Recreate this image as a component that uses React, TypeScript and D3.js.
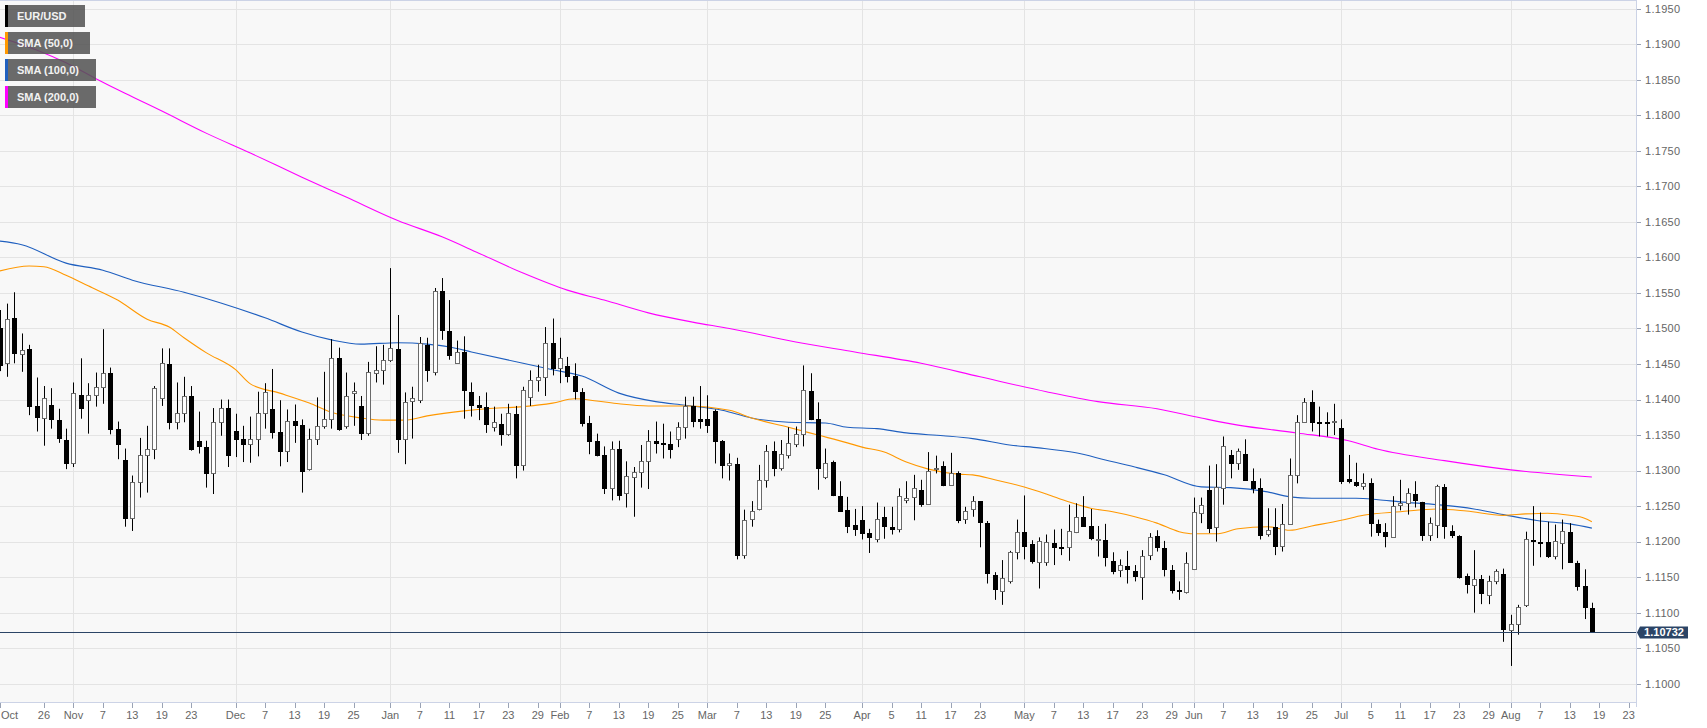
import React from "react";
import * as d3 from "d3";

// ---------- DATA ----------
const START_DATE = "2018-10-18";
const END_DATE = "2019-08-23";

// Daily EUR/USD candles, one per trading session from START_DATE: [open, high, low, close]
const OHLC: [number, number, number, number][] = [
  [1.1500, 1.1526, 1.1440, 1.1449], [1.1451, 1.1535, 1.1432, 1.1513], [1.1515, 1.1551, 1.1451, 1.1466], [1.1464, 1.1493, 1.1439, 1.1470],
  [1.1471, 1.1477, 1.1378, 1.1391], [1.1391, 1.1431, 1.1355, 1.1376], [1.1374, 1.1419, 1.1335, 1.1402], [1.1392, 1.1416, 1.1359, 1.1373],
  [1.1371, 1.1387, 1.1339, 1.1346], [1.1343, 1.1359, 1.1302, 1.1311], [1.1311, 1.1424, 1.1305, 1.1409], [1.1407, 1.1458, 1.1373, 1.1388],
  [1.1399, 1.1423, 1.1352, 1.1407], [1.1406, 1.1438, 1.1390, 1.1418], [1.1417, 1.1499, 1.1394, 1.1438], [1.1438, 1.1445, 1.1351, 1.1359],
  [1.1359, 1.1369, 1.1316, 1.1337], [1.1315, 1.1331, 1.1221, 1.1233], [1.1233, 1.1293, 1.1215, 1.1284], [1.1284, 1.1346, 1.1262, 1.1322],
  [1.1322, 1.1363, 1.1269, 1.1331], [1.1331, 1.1419, 1.1316, 1.1416], [1.1402, 1.1472, 1.1391, 1.1451], [1.1450, 1.1472, 1.1358, 1.1369],
  [1.1368, 1.1424, 1.1358, 1.1381], [1.1381, 1.1432, 1.1368, 1.1405], [1.1405, 1.1419, 1.1328, 1.1330], [1.1341, 1.1383, 1.1324, 1.1334],
  [1.1333, 1.1342, 1.1276, 1.1296], [1.1296, 1.1388, 1.1267, 1.1369], [1.1369, 1.1400, 1.1349, 1.1388], [1.1388, 1.1400, 1.1305, 1.1322],
  [1.1356, 1.1380, 1.1319, 1.1344], [1.1344, 1.1363, 1.1312, 1.1337], [1.1337, 1.1376, 1.1311, 1.1344], [1.1344, 1.1411, 1.1320, 1.1381],
  [1.1381, 1.1423, 1.1359, 1.1410], [1.1386, 1.1443, 1.1345, 1.1354], [1.1354, 1.1399, 1.1306, 1.1327], [1.1327, 1.1386, 1.1312, 1.1370],
  [1.1370, 1.1393, 1.1339, 1.1364], [1.1364, 1.1372, 1.1269, 1.1300], [1.1302, 1.1359, 1.1300, 1.1344], [1.1344, 1.1403, 1.1336, 1.1363],
  [1.1363, 1.1439, 1.1359, 1.1372], [1.1372, 1.1485, 1.1359, 1.1459], [1.1459, 1.1473, 1.1356, 1.1358], [1.1363, 1.1438, 1.1359, 1.1405],
  [1.1409, 1.1424, 1.1363, 1.1412], [1.1391, 1.1405, 1.1343, 1.1353], [1.1353, 1.1453, 1.1349, 1.1439], [1.1438, 1.1475, 1.1424, 1.1442],
  [1.1441, 1.1477, 1.1421, 1.1456], [1.1456, 1.1585, 1.1453, 1.1472], [1.1471, 1.1519, 1.1325, 1.1345], [1.1344, 1.1410, 1.1309, 1.1397],
  [1.1398, 1.1418, 1.1345, 1.1402], [1.1400, 1.1488, 1.1395, 1.1479], [1.1477, 1.1487, 1.1425, 1.1441], [1.1439, 1.1557, 1.1434, 1.1553],
  [1.1553, 1.1571, 1.1484, 1.1498], [1.1496, 1.1540, 1.1456, 1.1463], [1.1452, 1.1483, 1.1450, 1.1467], [1.1467, 1.1489, 1.1373, 1.1413],
  [1.1411, 1.1424, 1.1376, 1.1392], [1.1392, 1.1405, 1.1371, 1.1390], [1.1390, 1.1410, 1.1353, 1.1365], [1.1362, 1.1390, 1.1355, 1.1368],
  [1.1366, 1.1380, 1.1335, 1.1352], [1.1352, 1.1394, 1.1349, 1.1381], [1.1380, 1.1391, 1.1289, 1.1308], [1.1308, 1.1418, 1.1300, 1.1413],
  [1.1404, 1.1441, 1.1391, 1.1427], [1.1427, 1.1449, 1.1411, 1.1432], [1.1432, 1.1502, 1.1405, 1.1479], [1.1479, 1.1514, 1.1434, 1.1444],
  [1.1444, 1.1487, 1.1423, 1.1458], [1.1447, 1.1460, 1.1424, 1.1433], [1.1433, 1.1451, 1.1400, 1.1412], [1.1411, 1.1416, 1.1362, 1.1367],
  [1.1367, 1.1377, 1.1323, 1.1342], [1.1342, 1.1352, 1.1320, 1.1322], [1.1322, 1.1334, 1.1267, 1.1276], [1.1276, 1.1341, 1.1258, 1.1331],
  [1.1331, 1.1342, 1.1258, 1.1266], [1.1268, 1.1313, 1.1248, 1.1293], [1.1291, 1.1305, 1.1235, 1.1298], [1.1298, 1.1336, 1.1276, 1.1314],
  [1.1314, 1.1357, 1.1274, 1.1342], [1.1342, 1.1369, 1.1324, 1.1339], [1.1339, 1.1366, 1.1317, 1.1338], [1.1337, 1.1355, 1.1317, 1.1331],
  [1.1345, 1.1368, 1.1333, 1.1361], [1.1361, 1.1404, 1.1345, 1.1391], [1.1391, 1.1404, 1.1361, 1.1370], [1.1372, 1.1419, 1.1359, 1.1370],
  [1.1372, 1.1406, 1.1353, 1.1364], [1.1384, 1.1386, 1.1310, 1.1342], [1.1341, 1.1343, 1.1289, 1.1308], [1.1308, 1.1324, 1.1286, 1.1311],
  [1.1309, 1.1318, 1.1175, 1.1181], [1.1181, 1.1245, 1.1176, 1.1231], [1.1232, 1.1257, 1.1221, 1.1243], [1.1246, 1.1308, 1.1244, 1.1287],
  [1.1287, 1.1336, 1.1276, 1.1327], [1.1327, 1.1341, 1.1292, 1.1303], [1.1303, 1.1343, 1.1300, 1.1324], [1.1322, 1.1361, 1.1317, 1.1339],
  [1.1337, 1.1362, 1.1333, 1.1351], [1.1351, 1.1448, 1.1334, 1.1413], [1.1412, 1.1437, 1.1371, 1.1373], [1.1372, 1.1396, 1.1273, 1.1304],
  [1.1291, 1.1331, 1.1288, 1.1311], [1.1312, 1.1314, 1.1264, 1.1265], [1.1264, 1.1285, 1.1242, 1.1243], [1.1244, 1.1263, 1.1212, 1.1222],
  [1.1223, 1.1246, 1.1208, 1.1218], [1.1230, 1.1250, 1.1203, 1.1212], [1.1212, 1.1218, 1.1184, 1.1207], [1.1204, 1.1255, 1.1199, 1.1232],
  [1.1234, 1.1249, 1.1204, 1.1222], [1.1220, 1.1249, 1.1210, 1.1218], [1.1218, 1.1275, 1.1213, 1.1264], [1.1259, 1.1285, 1.1254, 1.1261],
  [1.1263, 1.1294, 1.1230, 1.1275], [1.1273, 1.1287, 1.1249, 1.1253], [1.1253, 1.1326, 1.1253, 1.1300], [1.1302, 1.1321, 1.1296, 1.1303],
  [1.1306, 1.1313, 1.1278, 1.1280], [1.1280, 1.1325, 1.1279, 1.1296], [1.1296, 1.1299, 1.1226, 1.1231], [1.1232, 1.1249, 1.1225, 1.1243],
  [1.1246, 1.1264, 1.1235, 1.1257], [1.1257, 1.1257, 1.1192, 1.1227], [1.1226, 1.1229, 1.1141, 1.1156], [1.1153, 1.1157, 1.1118, 1.1133],
  [1.1131, 1.1174, 1.1111, 1.1149], [1.1145, 1.1187, 1.1141, 1.1185], [1.1186, 1.1231, 1.1175, 1.1214], [1.1214, 1.1265, 1.1175, 1.1194],
  [1.1196, 1.1202, 1.1169, 1.1173], [1.1171, 1.1206, 1.1134, 1.1201], [1.1171, 1.1210, 1.1166, 1.1199], [1.1198, 1.1217, 1.1167, 1.1192],
  [1.1193, 1.1218, 1.1181, 1.1191], [1.1193, 1.1252, 1.1173, 1.1215], [1.1213, 1.1254, 1.1212, 1.1234], [1.1234, 1.1264, 1.1221, 1.1222],
  [1.1222, 1.1246, 1.1202, 1.1205], [1.1204, 1.1222, 1.1179, 1.1204], [1.1202, 1.1225, 1.1165, 1.1178], [1.1173, 1.1185, 1.1154, 1.1159],
  [1.1160, 1.1175, 1.1150, 1.1167], [1.1166, 1.1187, 1.1141, 1.1162], [1.1159, 1.1167, 1.1144, 1.1152], [1.1150, 1.1188, 1.1118, 1.1180],
  [1.1181, 1.1212, 1.1174, 1.1207], [1.1208, 1.1216, 1.1186, 1.1193], [1.1191, 1.1201, 1.1151, 1.1162], [1.1160, 1.1167, 1.1127, 1.1132],
  [1.1132, 1.1144, 1.1118, 1.1131], [1.1129, 1.1185, 1.1127, 1.1170], [1.1162, 1.1262, 1.1160, 1.1241], [1.1240, 1.1262, 1.1226, 1.1251],
  [1.1273, 1.1307, 1.1212, 1.1219], [1.1220, 1.1309, 1.1200, 1.1277], [1.1275, 1.1348, 1.1252, 1.1334], [1.1322, 1.1329, 1.1289, 1.1311],
  [1.1310, 1.1331, 1.1301, 1.1327], [1.1324, 1.1344, 1.1286, 1.1287], [1.1286, 1.1303, 1.1268, 1.1275], [1.1275, 1.1289, 1.1203, 1.1209],
  [1.1211, 1.1247, 1.1207, 1.1216], [1.1221, 1.1247, 1.1181, 1.1194], [1.1194, 1.1253, 1.1186, 1.1225], [1.1225, 1.1317, 1.1225, 1.1294],
  [1.1294, 1.1378, 1.1282, 1.1369], [1.1369, 1.1402, 1.1367, 1.1397], [1.1397, 1.1413, 1.1355, 1.1368], [1.1369, 1.1390, 1.1348, 1.1368],
  [1.1369, 1.1382, 1.1348, 1.1368], [1.1368, 1.1394, 1.1350, 1.1370], [1.1360, 1.1372, 1.1281, 1.1286], [1.1288, 1.1322, 1.1282, 1.1286],
  [1.1284, 1.1311, 1.1277, 1.1280], [1.1278, 1.1296, 1.1273, 1.1283], [1.1283, 1.1289, 1.1207, 1.1226], [1.1225, 1.1231, 1.1208, 1.1214],
  [1.1213, 1.1226, 1.1192, 1.1208], [1.1207, 1.1264, 1.1206, 1.1250], [1.1252, 1.1287, 1.1244, 1.1254], [1.1254, 1.1275, 1.1238, 1.1269],
  [1.1267, 1.1285, 1.1248, 1.1259], [1.1256, 1.1256, 1.1201, 1.1210], [1.1210, 1.1234, 1.1201, 1.1226], [1.1223, 1.1280, 1.1205, 1.1278],
  [1.1277, 1.1281, 1.1204, 1.1222], [1.1215, 1.1223, 1.1205, 1.1210], [1.1208, 1.1209, 1.1148, 1.1150], [1.1152, 1.1155, 1.1127, 1.1140],
  [1.1139, 1.1188, 1.1100, 1.1147], [1.1147, 1.1153, 1.1112, 1.1127], [1.1125, 1.1152, 1.1112, 1.1145], [1.1145, 1.1161, 1.1140, 1.1158],
  [1.1154, 1.1162, 1.1059, 1.1077], [1.1075, 1.1097, 1.1025, 1.1084], [1.1084, 1.1111, 1.1069, 1.1108], [1.1111, 1.1214, 1.1108, 1.1203],
  [1.1202, 1.1250, 1.1166, 1.1201], [1.1200, 1.1241, 1.1178, 1.1198], [1.1199, 1.1228, 1.1177, 1.1180], [1.1180, 1.1224, 1.1175, 1.1201],
  [1.1198, 1.1231, 1.1161, 1.1215], [1.1213, 1.1226, 1.1170, 1.1171], [1.1170, 1.1173, 1.1131, 1.1138], [1.1138, 1.1161, 1.1091, 1.1108],
  [1.1107, 1.1114, 1.1073, 1.1073],
];

// Moving averages: [session index, value]
const SMA50: [number, number][] = [
  [0, 1.1581], [4, 1.1588], [6, 1.1587], [9, 1.1575], [12, 1.1560], [16, 1.1540], [20, 1.1513], [23, 1.1502],
  [25, 1.1487], [28, 1.1466], [32, 1.1442], [34, 1.1422], [38, 1.1409], [42, 1.1395], [45, 1.1382], [49, 1.1374],
  [52, 1.1371], [55, 1.1371], [58, 1.1377], [63, 1.1384], [66, 1.1387], [71, 1.1390], [75, 1.1395], [78, 1.1401],
  [81, 1.1398], [84, 1.1394], [88, 1.1391], [93, 1.1391], [99, 1.1385], [102, 1.1374], [107, 1.1361], [111, 1.1350],
  [115, 1.1339], [117, 1.1333], [120, 1.1326], [123, 1.1312], [126, 1.1302], [130, 1.1295], [132, 1.1294], [135, 1.1287],
  [139, 1.1277], [142, 1.1267], [145, 1.1256], [148, 1.1247], [151, 1.1242], [154, 1.1235], [157, 1.1226], [160, 1.1214],
  [162, 1.1211], [165, 1.1211], [168, 1.1218], [172, 1.1221], [175, 1.1216], [178, 1.1222], [182, 1.1230], [185, 1.1237],
  [190, 1.1242], [195, 1.1246], [199, 1.1243], [204, 1.1237], [207, 1.1239], [210, 1.1240], [213, 1.1237], [215, 1.1233],
  [216, 1.1228],
];
const SMA100: [number, number][] = [
  [0, 1.1623], [3, 1.1618], [9, 1.1592], [14, 1.1582], [18, 1.1568], [25, 1.1551], [30, 1.1536], [36, 1.1515],
  [41, 1.1495], [45, 1.1484], [49, 1.1478], [54, 1.1480], [58, 1.1478], [61, 1.1474], [64, 1.1467], [71, 1.1451],
  [75, 1.1442], [79, 1.1433], [84, 1.1409], [89, 1.1397], [93, 1.1392], [98, 1.1385], [102, 1.1374], [107, 1.1368],
  [112, 1.1367], [115, 1.1361], [119, 1.1359], [123, 1.1353], [128, 1.1349], [132, 1.1345], [137, 1.1336], [141, 1.1332],
  [146, 1.1325], [150, 1.1315], [154, 1.1305], [158, 1.1294], [163, 1.1277], [167, 1.1276], [172, 1.1270], [175, 1.1263],
  [178, 1.1261], [184, 1.1261], [187, 1.1259], [190, 1.1256], [195, 1.1252], [200, 1.1246], [204, 1.1238], [209, 1.1229],
  [213, 1.1225], [216, 1.1219],
];
const SMA200: [number, number][] = [
  [0, 1.1910], [5, 1.1892], [9, 1.1874], [13, 1.1852], [17, 1.1831], [22, 1.1806], [28, 1.1775], [34, 1.1747],
  [41, 1.1713], [47, 1.1685], [54, 1.1652], [60, 1.1629], [65, 1.1606], [71, 1.1578], [77, 1.1554], [82, 1.1540],
  [88, 1.1522], [94, 1.1509], [99, 1.1500], [108, 1.1481], [116, 1.1467], [125, 1.1451], [133, 1.1432], [142, 1.1411],
  [149, 1.1397], [157, 1.1387], [163, 1.1374], [168, 1.1364], [176, 1.1353], [183, 1.1342], [187, 1.1330], [196, 1.1314],
  [205, 1.1301], [216, 1.1291],
];

const X_TICKS: [string, string][] = [
  ["2018-10-18", "Oct"], ["2018-10-26", "26"], ["2018-11-01", "Nov"], ["2018-11-07", "7"], ["2018-11-13", "13"],
  ["2018-11-19", "19"], ["2018-11-23", "23"], ["2018-12-03", "Dec"], ["2018-12-07", "7"], ["2018-12-13", "13"],
  ["2018-12-19", "19"], ["2018-12-25", "25"], ["2019-01-01", "Jan"], ["2019-01-07", "7"], ["2019-01-11", "11"],
  ["2019-01-17", "17"], ["2019-01-23", "23"], ["2019-01-29", "29"], ["2019-02-01", "Feb"], ["2019-02-07", "7"],
  ["2019-02-13", "13"], ["2019-02-19", "19"], ["2019-02-25", "25"], ["2019-03-01", "Mar"], ["2019-03-07", "7"],
  ["2019-03-13", "13"], ["2019-03-19", "19"], ["2019-03-25", "25"], ["2019-04-01", "Apr"], ["2019-04-05", "5"],
  ["2019-04-11", "11"], ["2019-04-17", "17"], ["2019-04-23", "23"], ["2019-05-01", "May"], ["2019-05-07", "7"],
  ["2019-05-13", "13"], ["2019-05-17", "17"], ["2019-05-23", "23"], ["2019-05-29", "29"], ["2019-06-03", "Jun"],
  ["2019-06-07", "7"], ["2019-06-13", "13"], ["2019-06-19", "19"], ["2019-06-25", "25"], ["2019-07-01", "Jul"],
  ["2019-07-05", "5"], ["2019-07-11", "11"], ["2019-07-17", "17"], ["2019-07-23", "23"], ["2019-07-29", "29"],
  ["2019-08-01", "Aug"], ["2019-08-07", "7"], ["2019-08-13", "13"], ["2019-08-19", "19"], ["2019-08-23", "23"],
];
const MONTH_LABELS = ["Nov", "Dec", "Jan", "Feb", "Mar", "Apr", "May", "Jun", "Jul", "Aug"];

const Y_TICKS = [
  1.1, 1.105, 1.11, 1.115, 1.12, 1.125, 1.13, 1.135, 1.14, 1.145,
  1.15, 1.155, 1.16, 1.165, 1.17, 1.175, 1.18, 1.185, 1.19, 1.195,
];
const LAST_PRICE = 1.10732;

const LEGEND: [string, string][] = [
  ["EUR/USD", "#000000"],
  ["SMA (50,0)", "#ff9800"],
  ["SMA (100,0)", "#1f5fbf"],
  ["SMA (200,0)", "#ff00ff"],
];

// ---------- HELPERS ----------
function tradingDays(start: string, end: string): string[] {
  const out: string[] = [];
  const [sy, sm, sd] = start.split("-").map(Number);
  const d = new Date(Date.UTC(sy, sm - 1, sd));
  while (true) {
    const iso = d.toISOString().slice(0, 10);
    const wd = d.getUTCDay();
    if (wd !== 0 && wd !== 6) out.push(iso);
    if (iso === end) break;
    d.setUTCDate(d.getUTCDate() + 1);
  }
  return out;
}

const W = 1707;
const H = 728;
const PLOT_R = 1636;
const PLOT_B = 702;
const FONT = "'Liberation Sans', Arial, Helvetica, sans-serif";

export default function App() {
  const days = tradingDays(START_DATE, END_DATE);
  const dayIndex = new Map(days.map((d, i) => [d, i] as [string, number]));

  const x = d3.scaleLinear().domain([0, 222]).range([-0.3, PLOT_R + 0.1]);
  const y = d3.scaleLinear().domain([1.1, 1.195]).range([683.7, 8.8]);

  const line = d3
    .line<[number, number]>()
    .x((d) => x(d[0]))
    .y((d) => y(d[1]))
    .curve(d3.curveMonotoneX);

  const crisp = (v: number) => Math.round(v) + 0.5;

  const lastY = crisp(y(LAST_PRICE));

  return (
    <svg
      width={W}
      height={H}
      style={{ position: "absolute", left: 0, top: 0, display: "block", background: "#ffffff" }}
      fontFamily={FONT}
    >
      <defs>
        <clipPath id="plotClip">
          <rect x={0} y={0} width={PLOT_R} height={PLOT_B} />
        </clipPath>
      </defs>

      {/* plot background */}
      <rect x={0} y={0} width={PLOT_R} height={PLOT_B} fill="#f8f8f8" />

      {/* horizontal grid */}
      {Y_TICKS.map((t) => (
        <line key={"hg" + t} x1={0} x2={PLOT_R} y1={crisp(y(t))} y2={crisp(y(t))} stroke="#e4e4e4" strokeWidth={1} />
      ))}
      {/* vertical grid at month starts */}
      {X_TICKS.filter((t) => MONTH_LABELS.includes(t[1])).map((t) => {
        const xv = crisp(x(dayIndex.get(t[0])!));
        return <line key={"vg" + t[0]} x1={xv} x2={xv} y1={0} y2={PLOT_B} stroke="#e4e4e4" strokeWidth={1} />;
      })}

      <g clipPath="url(#plotClip)">
        {/* SMAs */}
        <path d={line(SMA200) || ""} fill="none" stroke="#ff00ff" strokeWidth={1.1} />
        <path d={line(SMA100) || ""} fill="none" stroke="#1f5fbf" strokeWidth={1.1} />
        <path d={line(SMA50) || ""} fill="none" stroke="#ff9800" strokeWidth={1.1} />

        {/* candles */}
        {OHLC.map((c, i) => {
          const [o, h, l, cl] = c;
          const up = cl >= o;
          const cx = Math.round(x(i));
          const top = Math.round(y(Math.max(o, cl)));
          const bot = Math.round(y(Math.min(o, cl)));
          const bh = Math.max(1, bot - top);
          return (
            <g key={"c" + i}>
              <line x1={cx + 0.5} x2={cx + 0.5} y1={y(h)} y2={y(l)} stroke="#000" strokeWidth={1} />
              <rect
                x={cx - 1.5}
                y={top + 0.5}
                width={4}
                height={bh}
                fill={up ? "#ffffff" : "#000000"}
                stroke={up ? "#6a6a6a" : "#000000"}
                strokeWidth={1}
              />
            </g>
          );
        })}

        {/* last price line */}
        <line x1={0} x2={PLOT_R} y1={lastY} y2={lastY} stroke="#2b4466" strokeWidth={1} />
      </g>

      {/* plot borders */}
      <line x1={0} x2={PLOT_R} y1={0.5} y2={0.5} stroke="#ccd3e6" strokeWidth={1} />
      <line x1={PLOT_R + 0.5} x2={PLOT_R + 0.5} y1={0} y2={PLOT_B + 5} stroke="#ccd3e6" strokeWidth={1} />
      <line x1={0} x2={PLOT_R + 1} y1={PLOT_B + 0.5} y2={PLOT_B + 0.5} stroke="#ccd3e6" strokeWidth={1} />

      {/* y axis */}
      {Y_TICKS.map((t) => (
        <g key={"yt" + t}>
          <line x1={PLOT_R + 1} x2={PLOT_R + 5} y1={crisp(y(t))} y2={crisp(y(t))} stroke="#9aa3b5" strokeWidth={1} />
          <text x={PLOT_R + 9} y={y(t)} dy="0.35em" fontSize={11} fill="#666" letterSpacing={0.3}>
            {d3.format(".4f")(t)}
          </text>
        </g>
      ))}

      {/* x axis */}
      {X_TICKS.map((t, k) => {
        const xv = x(dayIndex.get(t[0])!);
        const first = k === 0;
        return (
          <g key={"xt" + t[0]}>
            <line x1={crisp(Math.max(0, xv))} x2={crisp(Math.max(0, xv))} y1={PLOT_B + 1} y2={PLOT_B + 6} stroke="#9aa3b5" strokeWidth={1} />
            <text
              x={first ? 1 : xv}
              y={PLOT_B + 17}
              textAnchor={first ? "start" : "middle"}
              fontSize={11}
              fill="#666"
            >
              {t[1]}
            </text>
          </g>
        );
      })}

      {/* last price label */}
      <path
        d={`M${PLOT_R + 1},${lastY} L${PLOT_R + 4},${lastY - 6} L${PLOT_R + 52},${lastY - 6} L${PLOT_R + 52},${lastY + 6} L${PLOT_R + 4},${lastY + 6} Z`}
        fill="#2b4466"
      />
      <text x={PLOT_R + 28} y={lastY} dy="0.36em" textAnchor="middle" fontSize={11} fontWeight="bold" fill="#ffffff">
        {d3.format(".5f")(LAST_PRICE)}
      </text>

      {/* legend */}
      {LEGEND.map((lg, k) => {
        const top = 5 + k * 27;
        const wBox = lg[0].length <= 7 ? 80 : lg[0].length <= 10 ? 85 : 91;
        return (
          <g key={"lg" + k}>
            <rect x={5} y={top} width={wBox} height={22} fill="#555555" opacity={0.88} />
            <rect x={5} y={top} width={3} height={22} fill={lg[1]} />
            <text x={17} y={top + 11} dy="0.36em" fontSize={11} fontWeight="bold" fill="#f2f2f2">
              {lg[0]}
            </text>
          </g>
        );
      })}
    </svg>
  );
}
